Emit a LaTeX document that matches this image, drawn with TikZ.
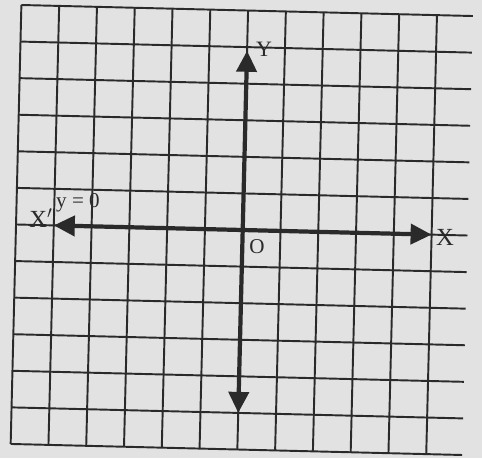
\documentclass[tikz,border=0pt]{standalone}
\usepackage{fontspec}
\setmainfont{Liberation Serif}
\usetikzlibrary{arrows.meta}
\definecolor{paper}{RGB}{226,226,226}
\definecolor{ink}{RGB}{42,42,42}
\begin{document}
\begin{tikzpicture}[x=0.02cm,y=0.02cm,
  gridline/.style={draw=ink, line width=1.1pt},
  axisline/.style={draw=ink, line width=2.4pt, >={Triangle[length=0.42cm,width=0.4cm]}, <->},
  lbl/.style={inner sep=0pt, text=ink}]
\fill[paper] (0,0) rectangle (482,-458);
\useasboundingbox (0,0) rectangle (482,-458);
\begin{scope}[shift={(242.7,-230)}, rotate=-1.4, x=0.756cm, y=0.732cm]
  \foreach \i in {-6,...,6} \draw[gridline] (-6,\i) -- (5.95,\i);
  \foreach \j in {-6,...,5} \draw[gridline] (\j,-6) -- (\j,6);
  \coordinate (O) at (0,0);
  \coordinate (xl) at (-5,0);
  \coordinate (xr) at (5,0);
  \coordinate (yt) at (0,4.9);
  \coordinate (yb) at (0,-5);
  \draw[axisline] (xl) -- (xr);
  \draw[axisline] (yb) -- (yt);
\end{scope}
\node[lbl, font=\fontsize{12.5}{14}\selectfont] (ylab) at (264,-49) {Y};
\node[lbl, font=\fontsize{14}{16}\selectfont] (xlab) at (445,-237) {X};
\node[lbl, font=\fontsize{14}{16}\selectfont] (xplab) at (41,-218) {X$'$};
\node[lbl, font=\fontsize{12}{14}\selectfont] (eqlab) at (78,-203) {y = 0};
\node[lbl, font=\fontsize{12}{14}\selectfont] (olab) at (257,-247) {O};
\end{tikzpicture}
\end{document}
